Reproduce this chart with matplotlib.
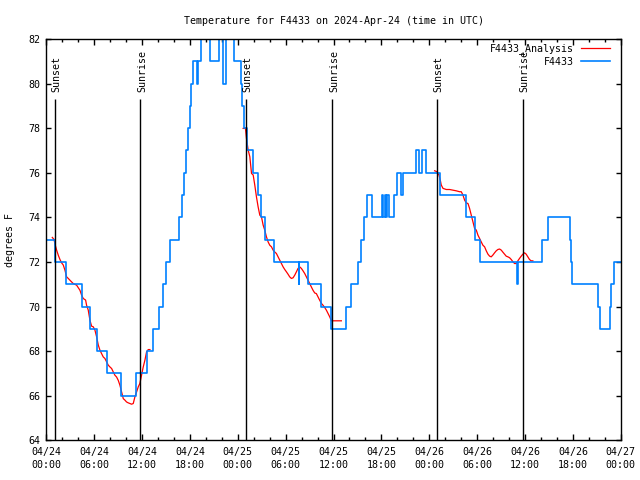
import matplotlib
matplotlib.use('Agg')
import matplotlib.pyplot as plt
from datetime import datetime, timedelta

plt.rcParams['font.family'] = ['DejaVu Sans Mono', 'DejaVu Sans']
plt.rcParams['font.size'] = 7.2

# time in hours since 2024-04-24 00:00 UTC
start = datetime(2024, 4, 24)

# F4433 observations (value holds from each time until the next)
obs_hours = [0, 1.15, 2.45, 4.45, 5.45, 6.4, 7.65, 9.4, 11.2, 12.65, 13.4, 14.1, 14.6, 15.0,
             15.45, 16.65, 16.95, 17.2, 17.55, 17.75, 17.95, 18.2, 18.4, 18.88, 19.05, 19.42,
             19.7, 20.58, 21.6, 21.72, 22.15, 22.55, 23.5, 24.35, 24.55, 24.75, 25.2, 25.85,
             26.55, 26.95, 27.45, 28.5, 31.62, 31.72, 32.85, 34.45, 35.65, 37.55, 38.15, 39.05,
             39.4, 39.8, 40.15, 40.8, 42.1, 42.25, 42.45, 42.6, 42.75, 42.9, 43.55, 43.9, 44.5,
             44.75, 46.35, 46.75, 47.1, 47.6, 49.4, 52.55, 53.75, 54.4, 58.95, 59.1, 62.1,
             62.85, 65.6, 65.75, 65.9, 69.1, 69.4, 70.6, 70.8, 71.1, 72]
obs_temps = [73, 72, 71, 70, 69, 68, 67, 66, 67, 68, 69, 70, 71, 72,
             73, 74, 75, 76, 77, 78, 79, 80, 81, 80, 81, 82,
             83, 81, 82, 83, 80, 83, 81, 80, 79, 78, 77, 76,
             75, 74, 73, 72, 71, 72, 71, 70, 69, 70, 71, 72,
             73, 74, 75, 74, 75, 74, 75, 74, 75, 74, 75, 76, 75,
             76, 77, 76, 77, 76, 75, 74, 73, 72, 71, 72, 73,
             74, 73, 72, 71, 70, 69, 70, 71, 72, 72]

# F4433 analysis, three night segments
ana1_hours = [0.755, 0.964, 1.131, 1.298, 1.507, 1.715, 1.924, 2.133, 2.342, 2.55, 2.759, 2.968,
              3.385, 3.80, 4.22, 4.43, 4.64, 4.93, 5.05, 5.26, 5.47, 5.68, 5.89, 6.10, 6.31,
              6.52, 6.73, 6.93, 7.14, 7.35, 7.56, 7.77, 7.98, 8.19, 8.39, 8.60, 8.81, 9.02,
              9.23, 9.44, 9.65, 9.86, 10.06, 10.27, 10.48, 10.69, 10.90, 11.11, 11.32, 11.53,
              11.73, 11.94, 12.15, 12.36, 12.57, 12.78, 12.99]
ana1_temps = [73.10, 73.01, 72.75, 72.53, 72.30, 72.11, 71.96, 71.86, 71.63, 71.33, 71.26, 71.18,
              71.03, 70.96, 70.73, 70.51, 70.36, 70.29, 70.06, 69.84, 69.39, 69.12, 69.09, 68.94,
              68.64, 68.27, 68.04, 67.89, 67.74, 67.67, 67.52, 67.37, 67.29, 67.22, 67.07, 66.92,
              66.84, 66.69, 66.47, 66.17, 65.87, 65.80, 65.72, 65.68, 65.65, 65.62, 65.65, 65.95,
              66.17, 66.40, 66.55, 66.92, 67.29, 67.59, 67.97, 68.07, 68.07]

ana2_hours = [24.67, 24.96, 25.09, 25.30, 25.51, 25.72, 25.93, 26.13, 26.34, 26.55, 26.76, 26.97,
              27.18, 27.38, 27.59, 27.80, 28.01, 28.22, 28.43, 28.63, 28.84, 29.05, 29.26, 29.47,
              29.68, 29.89, 30.09, 30.30, 30.51, 30.72, 30.93, 31.14, 31.35, 31.55, 31.76, 31.97,
              32.18, 32.39, 32.60, 32.81, 33.01, 33.22, 33.43, 33.64, 33.85, 34.06, 34.27, 34.48,
              34.68, 34.89, 35.10, 35.31, 35.52, 35.73, 36.98]
ana2_temps = [77.99, 77.99, 77.54, 77.02, 76.72, 75.97, 75.90, 75.45, 74.92, 74.47, 74.10, 74.02,
              73.65, 73.43, 73.13, 72.90, 72.75, 72.68, 72.53, 72.45, 72.38, 72.23, 72.08, 71.93,
              71.78, 71.66, 71.56, 71.45, 71.33, 71.26, 71.29, 71.41, 71.56, 71.71, 71.78, 71.71,
              71.60, 71.48, 71.33, 71.18, 71.03, 70.88, 70.73, 70.61, 70.58, 70.43, 70.28, 70.14,
              70.06, 69.96, 69.84, 69.69, 69.54, 69.36, 69.36]

ana3_hours = [48.67, 48.96, 49.21, 49.38, 49.50, 49.72, 50.13, 50.55, 50.97, 51.39, 51.80, 52.01,
              52.22, 52.43, 52.64, 52.85, 53.05, 53.26, 53.47, 53.68, 53.89, 54.10, 54.31, 54.51,
              54.72, 54.93, 55.14, 55.35, 55.56, 55.76, 55.97, 56.18, 56.39, 56.60, 56.81, 57.02,
              57.22, 57.43, 57.64, 57.85, 58.06, 58.27, 58.48, 58.69, 58.89, 59.10, 59.31, 59.52,
              59.73, 59.94, 60.14, 60.35, 60.56, 60.77, 60.98]
ana3_temps = [76.09, 76.05, 75.90, 75.67, 75.45, 75.30, 75.25, 75.25, 75.22, 75.19, 75.15, 75.15,
              75.00, 74.77, 74.65, 74.62, 74.40, 74.10, 73.80, 73.50, 73.43, 73.20, 73.05, 72.90,
              72.75, 72.68, 72.50, 72.35, 72.26, 72.23, 72.31, 72.41, 72.50, 72.56, 72.58, 72.53,
              72.44, 72.35, 72.26, 72.23, 72.19, 72.11, 72.01, 71.93, 71.93, 72.05, 72.16, 72.26,
              72.35, 72.41, 72.35, 72.23, 72.11, 72.05, 72.05]

sunset_hours = [1.04, 25.04, 48.95]
sunrise_hours = [11.8, 35.85, 59.77]

fig = plt.figure(figsize=(6.4, 4.8), dpi=100)
ax = fig.add_axes([0.0723, 0.0827, 0.8977, 0.8360])

red = '#ff0000'
blue = '#0080ff'

ax.plot(ana1_hours, ana1_temps, color=red, lw=0.9, label='F4433_Analysis')
ax.plot(ana2_hours, ana2_temps, color=red, lw=0.9)
ax.plot(ana3_hours, ana3_temps, color=red, lw=0.9)
ax.step(obs_hours, obs_temps, where='post', color=blue, lw=1.2, label='F4433')

for h in sunset_hours:
    ax.vlines(h, 64, 79.3, color='black', lw=1.0)
    ax.text(h + 0.2, 79.62, 'Sunset', rotation=90, ha='center', va='bottom')
for h in sunrise_hours:
    ax.vlines(h, 64, 79.3, color='black', lw=1.0)
    ax.text(h + 0.2, 79.62, 'Sunrise', rotation=90, ha='center', va='bottom')

ax.set_xlim(0, 72)
ax.set_ylim(64, 82)
ax.set_yticks(range(64, 83, 2))
ax.set_xticks(range(0, 73, 6))
ax.set_xticks(range(0, 73, 2), minor=True)
ax.set_xticklabels([(start + timedelta(hours=h)).strftime('%m/%d\n%H:%M') for h in range(0, 73, 6)])
for lbl in ax.get_xticklabels():
    lbl.set_linespacing(1.4)

ax.tick_params(which='both', direction='in', top=True, right=True, width=1.0)
ax.tick_params(axis='x', which='major', length=4.3, pad=5)
ax.tick_params(axis='x', which='minor', length=2.2)
ax.tick_params(axis='y', length=3.6, pad=4)
for s in ax.spines.values():
    s.set_linewidth(1.0)

ax.set_ylabel('degrees F')
ax.yaxis.set_label_coords(-0.0536, 0.499)
ax.set_title('Temperature for F4433 on 2024-Apr-24 (time in UTC)', fontsize=7.2, pad=10.8)

ax.legend(loc='upper right', bbox_to_anchor=(0.981, 0.990), frameon=False, markerfirst=False,
          borderpad=0, borderaxespad=0, handlelength=2.9, handletextpad=0.7, labelspacing=0.3)

fig.savefig('out.png', dpi=100)
